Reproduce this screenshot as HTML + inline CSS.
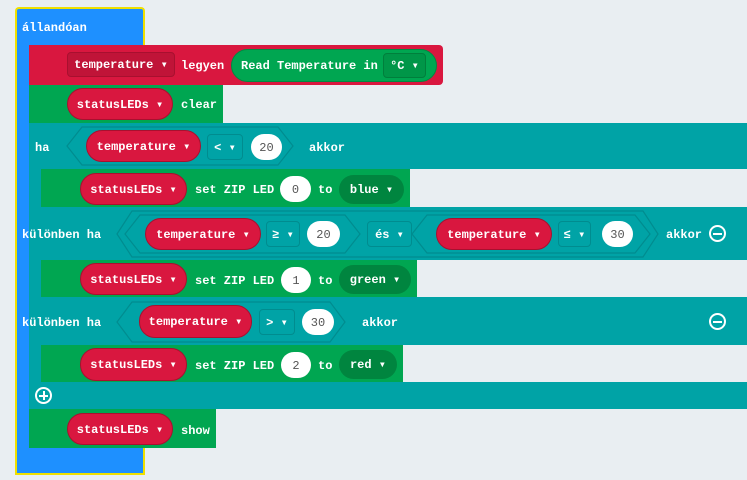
<!DOCTYPE html>
<html><head><meta charset="utf-8"><style>
body{margin:0;width:747px;height:480px;background:#e9eef2;position:relative;overflow:hidden;font-family:"Liberation Mono","DejaVu Sans Mono",monospace;font-weight:bold;font-size:12px;color:#fff}
div{position:absolute;box-sizing:border-box}
.t{line-height:14px;white-space:nowrap;transform:translateY(2px)}
.blue{background:#1e90ff}
.red{background:#d9173f}
.grn{background:#00a651}
.teal{background:#00a3a6}
.rp{background:#d9173f;border:1px solid #a8102f;border-radius:16px;text-align:center;line-height:32px}
.dd{border-radius:4px;text-align:center}
.wp{background:#fff;color:#555;border-radius:14px;text-align:center;line-height:28px;font-weight:normal}
.gp{background:#00853f;border-radius:15px;text-align:center;line-height:31px}
.circ{width:17px;height:17px;border:2px solid #fff;border-radius:50%}
.circ:after{content:"";position:absolute;left:2px;top:5.5px;width:9px;height:2px;background:#fff}
.plus:before{content:"";position:absolute;left:5.5px;top:2px;width:2px;height:9px;background:#fff}
</style></head><body>
<div class="blue" style="left:15px;top:7px;width:130px;height:40px;border:2px solid #f0e000;border-bottom:none;border-radius:4px 4px 0 0"></div>
<div class="blue" style="left:15px;top:45px;width:16px;height:405px;border-left:2px solid #f0e000"></div>
<div class="blue" style="left:15px;top:448px;width:130px;height:27px;border:2px solid #f0e000;border-top:none"></div>
<div class="t" style="left:22px;top:19px">állandóan</div>
<div class="red" style="left:29px;top:45px;width:414px;height:40px;border-radius:0 4px 4px 0"></div>
<div class="dd" style="left:67px;top:52px;width:108px;height:25px;background:#c01438;border:1px solid #a8102f;line-height:25px">temperature ▾</div>
<div class="t" style="left:181px;top:57px">legyen</div>
<div class="grn" style="left:231px;top:49px;width:206px;height:33px;border-radius:17px;border:1px solid #008a43"></div>
<div class="t" style="left:241px;top:57px">Read Temperature in</div>
<div class="dd" style="left:383px;top:53px;width:43px;height:25px;background:#009648;border:1px solid #007f3c;line-height:25px">°C ▾</div>
<div class="grn" style="left:29px;top:85px;width:194px;height:38px"></div>
<div class="rp" style="left:67px;top:88px;width:106px;height:32px">statusLEDs ▾</div>
<div class="t" style="left:181px;top:96px">clear</div>
<div class="teal" style="left:29px;top:123px;width:718px;height:46px"></div>
<div class="teal" style="left:29px;top:123px;width:12px;height:287px"></div>
<div class="teal" style="left:29px;top:207px;width:718px;height:53px"></div>
<div class="teal" style="left:29px;top:297px;width:718px;height:48px"></div>
<div class="teal" style="left:29px;top:382px;width:718px;height:27px"></div>
<div class="t" style="left:35px;top:139px">ha</div>
<svg style="position:absolute;left:0;top:0" width="747" height="480">
<g fill="none" stroke="#008c8f" stroke-width="1.2">
<polygon points="67,146 82,127 278,127 293,146 278,165 82,165"/>
<polygon points="117,234 132,211 643,211 658,234 643,257 132,257"/>
<polygon points="125,234 140,215 345,215 360,234 345,253 140,253"/>
<polygon points="412,234 427,215 635,215 650,234 635,253 427,253"/>
<polygon points="117,322 132,302 330,302 345,322 330,342 132,342"/>
</g></svg>
<div class="rp" style="left:86px;top:130px;width:115px;height:32px">temperature ▾</div>
<div class="dd" style="left:207px;top:134px;width:36px;height:26px;border:1px solid #008c8f;line-height:26px">&lt; ▾</div>
<div class="wp" style="left:251px;top:134px;width:31px;height:26px">20</div>
<div class="t" style="left:309px;top:139px">akkor</div>
<div class="grn" style="left:41px;top:169px;width:369px;height:38px"></div>
<div class="rp" style="left:80px;top:173px;width:107px;height:32px">statusLEDs ▾</div>
<div class="t" style="left:195px;top:181px">set ZIP LED</div>
<div class="wp" style="left:280px;top:176px;width:31px;height:26px">0</div>
<div class="t" style="left:318px;top:181px">to</div>
<div class="gp" style="left:339px;top:175px;width:65px;height:29px">blue ▾</div>
<div class="t" style="left:22px;top:226px">különben ha</div>
<div class="rp" style="left:145px;top:218px;width:116px;height:32px">temperature ▾</div>
<div class="dd" style="left:266px;top:221px;width:34px;height:26px;border:1px solid #008c8f;line-height:26px">≥ ▾</div>
<div class="wp" style="left:307px;top:221px;width:33px;height:26px">20</div>
<div class="dd" style="left:367px;top:221px;width:45px;height:26px;border:1px solid #008c8f;line-height:26px">és ▾</div>
<div class="rp" style="left:436px;top:218px;width:116px;height:32px">temperature ▾</div>
<div class="dd" style="left:558px;top:221px;width:33px;height:26px;border:1px solid #008c8f;line-height:26px">≤ ▾</div>
<div class="wp" style="left:602px;top:221px;width:31px;height:26px">30</div>
<div class="t" style="left:666px;top:226px">akkor</div>
<div class="circ" style="left:709px;top:225px"></div>
<div class="grn" style="left:41px;top:260px;width:376px;height:37px"></div>
<div class="rp" style="left:80px;top:263px;width:107px;height:32px">statusLEDs ▾</div>
<div class="t" style="left:195px;top:272px">set ZIP LED</div>
<div class="wp" style="left:281px;top:267px;width:30px;height:26px">1</div>
<div class="t" style="left:318px;top:272px">to</div>
<div class="gp" style="left:339px;top:265px;width:72px;height:29px">green ▾</div>
<div class="t" style="left:22px;top:314px">különben ha</div>
<div class="rp" style="left:139px;top:305px;width:113px;height:33px">temperature ▾</div>
<div class="dd" style="left:259px;top:309px;width:36px;height:26px;border:1px solid #008c8f;line-height:26px">&gt; ▾</div>
<div class="wp" style="left:302px;top:309px;width:32px;height:26px">30</div>
<div class="t" style="left:362px;top:314px">akkor</div>
<div class="circ" style="left:709px;top:313px"></div>
<div class="grn" style="left:41px;top:345px;width:362px;height:37px"></div>
<div class="rp" style="left:80px;top:348px;width:107px;height:33px">statusLEDs ▾</div>
<div class="t" style="left:195px;top:357px">set ZIP LED</div>
<div class="wp" style="left:281px;top:352px;width:30px;height:26px">2</div>
<div class="t" style="left:318px;top:357px">to</div>
<div class="gp" style="left:339px;top:350px;width:58px;height:29px">red ▾</div>
<div class="circ plus" style="left:35px;top:387px"></div>
<div class="grn" style="left:29px;top:409px;width:187px;height:39px"></div>
<div class="rp" style="left:67px;top:413px;width:106px;height:32px">statusLEDs ▾</div>
<div class="t" style="left:181px;top:422px">show</div>
</body></html>
